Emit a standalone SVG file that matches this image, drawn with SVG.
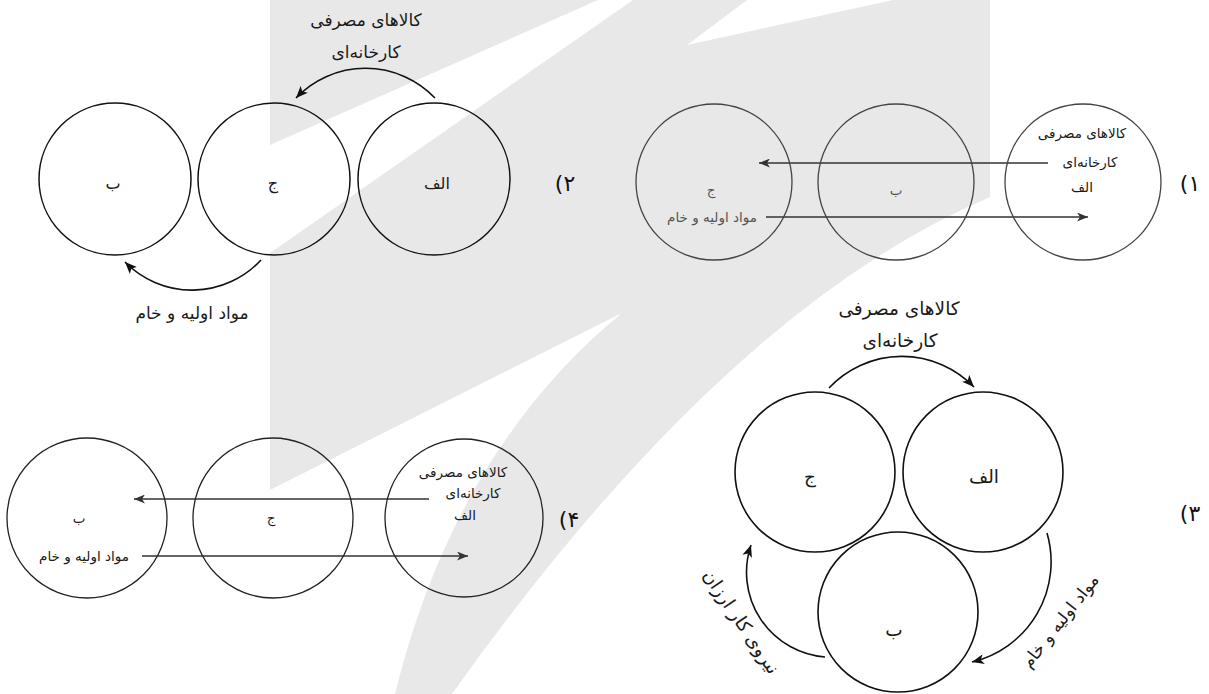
<svg xmlns="http://www.w3.org/2000/svg" width="1209" height="694" viewBox="0 0 1209 694">
  <defs>
    <style>
      .bg { fill: #e8e8e8; stroke: none; }
      .n1 { fill: none; stroke: #444; stroke-width: 1.3; }
      .n2 { fill: none; stroke: #111; stroke-width: 1.5; }
      .n3 { fill: none; stroke: #111; stroke-width: 1.6; }
      .n4 { fill: none; stroke: #222; stroke-width: 1.3; }
      .ln { fill: none; stroke: #333; stroke-width: 1.3; marker-end: url(#ah); }
      .arc { fill: none; stroke: #111; stroke-width: 1.6; marker-end: url(#ah2); }
      text { font-family: "DejaVu Sans", "Noto Sans", sans-serif; direction: rtl; text-anchor: middle; fill: #1a1a1a; }
      .s13 { font-size: 13.5px; }
      .s16 { font-size: 16px; }
      .s17 { font-size: 17px; }
      .s18 { font-size: 18.5px; }
      .s19 { font-size: 18.5px; }
      .num { font-size: 22px; fill: #111; }
      .g1 { fill: #555; }
    </style>
    <marker id="ah" markerUnits="userSpaceOnUse" markerWidth="12" markerHeight="9" refX="11" refY="4.5" orient="auto">
      <path d="M0,0 L11,4.5 L0,9 L3,4.5 Z" fill="#333"/>
    </marker>
    <marker id="ah2" markerUnits="userSpaceOnUse" markerWidth="13" markerHeight="10" refX="12" refY="5" orient="auto">
      <path d="M0,0 L12,5 L0,10 L3,5 Z" fill="#111"/>
    </marker>
  </defs>

  <rect width="1209" height="694" fill="#ffffff"/>

  <!-- background watermark shape -->
  <g id="watermark">
    <path class="bg" d="M270,0 L598,0 L270,145 Z"/>
    <path class="bg" d="M270,253 L633,0 L747,0 L687,45 L893,0 L990,0 L990,197 Q725,310 452,694 L395,694 Q455,450 622,313 L270,490 Z"/>
  </g>

  <!-- connectors -->
  <g id="connectors">
    <!-- panel 1 -->
    <line class="ln" x1="1048" y1="163" x2="759" y2="163"/>
    <line class="ln" x1="766" y1="217" x2="1088" y2="217"/>
    <!-- panel 2 -->
    <path class="arc" d="M435,98 A96,96 0 0 0 296,98"/>
    <path class="arc" d="M261,260 A94,94 0 0 1 125,262"/>
    <!-- panel 3 -->
    <path class="arc" d="M829,388 A100,100 0 0 1 974,387"/>
    <path class="arc" d="M1047,533 A103,103 0 0 1 972,662"/>
    <path class="arc" d="M825,657 A85,85 0 0 1 751,545"/>
    <!-- panel 4 -->
    <line class="ln" x1="429" y1="499" x2="134" y2="499"/>
    <line class="ln" x1="142" y1="556" x2="468" y2="556"/>
  </g>

  <!-- panel 1 -->
  <g id="p1-jim">
    <circle class="n1" cx="714" cy="182" r="78"/>
    <text class="s13 g1" x="711" y="195">ج</text>
    <text class="s13 g1" x="712" y="222">مواد اولیه و خام</text>
  </g>
  <g id="p1-be">
    <circle class="n1" cx="896" cy="182" r="78"/>
    <text class="s13 g1" x="896" y="195">ب</text>
  </g>
  <g id="p1-alef">
    <circle class="n1" cx="1083" cy="182" r="78"/>
    <text class="s13" x="1082" y="138">کالاهای مصرفی</text>
    <text class="s13" x="1090" y="167">کارخانه‌ای</text>
    <text class="s13" x="1082" y="192">الف</text>
  </g>
  <g id="p1-label"><text class="num" x="1190" y="191">۱)</text></g>

  <!-- panel 2 -->
  <g id="p2-be">
    <circle class="n2" cx="115" cy="179" r="76"/>
    <text class="s16" x="113" y="189">ب</text>
  </g>
  <g id="p2-jim">
    <circle class="n2" cx="274" cy="179" r="76"/>
    <text class="s16" x="273" y="189">ج</text>
  </g>
  <g id="p2-alef">
    <circle class="n2" cx="434" cy="179" r="76"/>
    <text class="s16" x="437" y="189">الف</text>
  </g>
  <g id="p2-texts">
    <text class="s17" x="366" y="26">کالاهای مصرفی</text>
    <text class="s17" x="366" y="58">کارخانه‌ای</text>
    <text class="s17" x="192" y="319">مواد اولیه و خام</text>
  </g>
  <g id="p2-label"><text class="num" x="565" y="191">۲)</text></g>

  <!-- panel 3 -->
  <g id="p3-jim">
    <circle class="n3" cx="815" cy="472" r="80"/>
    <text class="s18" x="810" y="483">ج</text>
  </g>
  <g id="p3-alef">
    <circle class="n3" cx="983" cy="472" r="80"/>
    <text class="s18" x="984" y="483">الف</text>
  </g>
  <g id="p3-be">
    <circle class="n3" cx="898" cy="612" r="80"/>
    <text class="s18" x="894" y="636">ب</text>
  </g>
  <g id="p3-texts">
    <text class="s18" x="899" y="315">کالاهای مصرفی</text>
    <text class="s18" x="900" y="347">کارخانه‌ای</text>
    <text class="s17" transform="translate(1060,621) rotate(-52)" x="0" y="6">مواد اولیه و خام</text>
    <text class="s19" transform="translate(741,622) rotate(56)" x="0" y="6">نیروی کار ارزان</text>
  </g>
  <g id="p3-label"><text class="num" x="1190" y="521">۳)</text></g>

  <!-- panel 4 -->
  <g id="p4-be">
    <circle class="n4" cx="87" cy="518" r="80"/>
    <text class="s13" x="79" y="523">ب</text>
    <text class="s13" x="84" y="561">مواد اولیه و خام</text>
  </g>
  <g id="p4-jim">
    <circle class="n4" cx="273" cy="518" r="80"/>
    <text class="s13" x="271" y="523">ج</text>
  </g>
  <g id="p4-alef">
    <circle class="n4" cx="464" cy="518" r="79"/>
    <text class="s13" x="463" y="477">کالاهای مصرفی</text>
    <text class="s13" x="473" y="498">کارخانه‌ای</text>
    <text class="s13" x="465" y="520">الف</text>
  </g>
  <g id="p4-label"><text class="num" x="569" y="527">۴)</text></g>
</svg>
